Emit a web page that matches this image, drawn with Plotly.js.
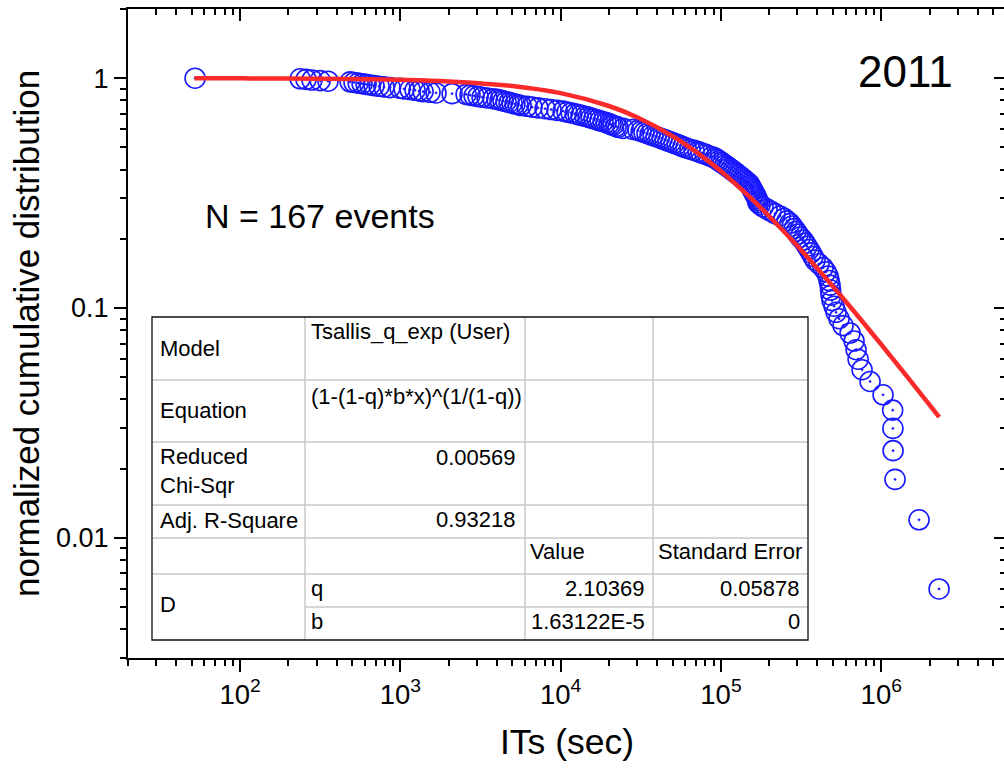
<!DOCTYPE html>
<html>
<head>
<meta charset="utf-8">
<script src="https://cdn.plot.ly/plotly-3.0.1.min.js"></script>
<style>
html,body{margin:0;padding:0;overflow:hidden;background:#fff;}
#chart{width:1010px;height:769px;}
</style>
</head>
<body>
<div id="chart"></div>
<script>
// ---- data ----
const itsSec = [52.4, 237, 258, 281, 316, 354, 486, 514, 545, 577, 611, 647, 685, 736, 791, 863, 996, 1055, 1150, 1235,
  1308, 1386, 1532, 1670, 2102, 2570, 2722, 2883, 3052, 3233, 3474, 3787, 4011, 4188, 4372, 4564, 4765, 4976, 5193, 5423,
  5663, 6171, 6631, 7227, 7992, 8711, 9497, 10350, 10960, 11610, 12300, 12840, 13410, 14200, 14820, 15470, 16160, 16870, 17610, 18390,
  19200, 20040, 20630, 21230, 22170, 22810, 24510, 28300, 30390, 31740, 33130, 34590, 36110, 37700, 39370, 41110, 42920, 44810, 46770, 48830,
  50980, 53230, 55570, 58010, 60560, 64150, 67950, 71960, 75140, 79580, 83080, 88000, 91880, 94560, 97300, 100100, 103100, 106100, 109200, 112300,
  115600, 119000, 122500, 126000, 129700, 133500, 137400, 141400, 145500, 149800, 151900, 154100, 156400, 158600, 160900, 163300, 165600, 168000, 169200, 170500,
  175400, 183100, 193900, 205300, 217400, 233700, 247500, 258400, 269800, 277600, 285800, 294100, 302700, 311500, 325200, 334700, 344500, 354500, 364900, 375500,
  386400, 409300, 433500, 452600, 465800, 472500, 479400, 482900, 486300, 493300, 507700, 522500, 545500, 577800, 638900, 676700, 696500, 716800, 759100, 851500,
  1026000, 1178000, 1182000, 1185000, 1219000, 1721000, 2294000];

const cumDist = [1, 0.99401, 0.98802, 0.98204, 0.97605, 0.97006, 0.96407, 0.95808, 0.95210, 0.94611,
  0.94012, 0.93413, 0.92814, 0.92216, 0.91617, 0.91018, 0.90419, 0.89820, 0.89222, 0.88623,
  0.88024, 0.87425, 0.86826, 0.86228, 0.85629, 0.85030, 0.84431, 0.83832, 0.83234, 0.82635,
  0.82036, 0.81437, 0.80838, 0.80240, 0.79641, 0.79042, 0.78443, 0.77844, 0.77246, 0.76647,
  0.76048, 0.75449, 0.74850, 0.74251, 0.73653, 0.73054, 0.72455, 0.71856, 0.71257, 0.70659,
  0.70060, 0.69461, 0.68862, 0.68263, 0.67665, 0.67066, 0.66467, 0.65868, 0.65269, 0.64671,
  0.64072, 0.63473, 0.62874, 0.62275, 0.61677, 0.61078, 0.60479, 0.59880, 0.59281, 0.58683,
  0.58084, 0.57485, 0.56886, 0.56287, 0.55689, 0.55090, 0.54491, 0.53892, 0.53293, 0.52695,
  0.52096, 0.51497, 0.50898, 0.50299, 0.49701, 0.49102, 0.48503, 0.47904, 0.47305, 0.46707,
  0.46108, 0.45509, 0.44910, 0.44311, 0.43713, 0.43114, 0.42515, 0.41916, 0.41317, 0.40719,
  0.40120, 0.39521, 0.38922, 0.38323, 0.37725, 0.37126, 0.36527, 0.35928, 0.35329, 0.34731,
  0.34132, 0.33533, 0.32934, 0.32335, 0.31737, 0.31138, 0.30539, 0.29940, 0.29341, 0.28743,
  0.28144, 0.27545, 0.26946, 0.26347, 0.25749, 0.25150, 0.24551, 0.23952, 0.23353, 0.22754,
  0.22156, 0.21557, 0.20958, 0.20359, 0.19760, 0.19162, 0.18563, 0.17964, 0.17365, 0.16766,
  0.16168, 0.15569, 0.14970, 0.14371, 0.13772, 0.13174, 0.12575, 0.11976, 0.11377, 0.10778,
  0.10180, 0.09581, 0.08982, 0.08383, 0.07784, 0.07186, 0.06587, 0.05988, 0.05389, 0.04790,
  0.04192, 0.03593, 0.02994, 0.02395, 0.01796, 0.01198, 0.00599];

const fitX = [52, 100, 200, 500, 1000, 2000, 5000, 10000, 20000, 30000, 50000, 70000, 100000,
  150000, 200000, 300000, 500000, 700000, 1000000, 1500000, 2300000];
const fitY = [0.99915, 0.99837, 0.99675, 0.99191, 0.98396, 0.96846, 0.92488, 0.86071, 0.75683, 0.67618,
  0.55899, 0.47766, 0.39335, 0.30559, 0.25087, 0.18596, 0.12412, 0.09394, 0.06940, 0.04884, 0.03354];

const yearLabel = "2011";
const countLabel = "N = 167 events";
const xTitle = "ITs (sec)";
const yTitle = "normalized cumulative distribution";

const rowLabels = ["Model", "Equation", "Reduced<br>Chi-Sqr", "Adj. R-Square", "D"];
const modelName = "Tsallis_q_exp (User)";
const equationText = "(1-(1-q)*b*x)^(1/(1-q))";
const statValues = ["0.00569", "0.93218"];
const colHeaders = ["Value", "Standard Error"];
const paramNames = ["q", "b"];
const paramValues = ["2.10369", "1.63122E-5"];
const paramErrors = ["0.05878", "0"];

// ---- layout helpers (pixel -> paper) ----
const L = 128, R = 1006, T = 9, B = 658;
const px = v => (v - L) / (R - L);
const py = v => (B - v) / (B - T);
const FONT = "Liberation Sans, Arial, Helvetica, sans-serif";

function txt(text, x, y, anchor, size) {
  return {text: text, x: px(x), y: py(y), xref: 'paper', yref: 'paper',
    xanchor: anchor, yanchor: 'middle', align: anchor === 'right' ? 'right' : 'left',
    showarrow: false, font: {family: FONT, size: size || 22, color: '#000'}};
}

const annotations = [
  txt(yearLabel, 905, 72, 'center', 44),
  txt(countLabel, 203, 216, 'left', 34),
  txt(rowLabels[0], 158, 348, 'left'),
  txt(modelName, 309, 331, 'left'),
  txt(rowLabels[1], 158, 410, 'left'),
  txt(equationText, 309, 396, 'left'),
  txt(rowLabels[2], 158, 471, 'left'),
  txt(statValues[0], 518, 457, 'right'),
  txt(rowLabels[3], 158, 520, 'left'),
  txt(statValues[1], 518, 519, 'right'),
  txt(colHeaders[0], 528, 551, 'left'),
  txt(colHeaders[1], 656, 551, 'left'),
  txt(rowLabels[4], 158, 604, 'left'),
  txt(paramNames[0], 309, 588, 'left'),
  txt(paramValues[0], 647, 588, 'right'),
  txt(paramErrors[0], 802, 588, 'right'),
  txt(paramNames[1], 309, 621, 'left'),
  txt(paramValues[1], 647, 621, 'right'),
  txt(paramErrors[1], 802, 621, 'right')
];

const gray = {color: '#c8c8c8', width: 1.5};
function hline(y, x0, x1) { return {type: 'line', xref: 'paper', yref: 'paper', x0: px(x0), x1: px(x1), y0: py(y), y1: py(y), line: gray}; }
function vline(x, y0, y1) { return {type: 'line', xref: 'paper', yref: 'paper', x0: px(x), x1: px(x), y0: py(y0), y1: py(y1), line: gray}; }
const tL = 152, tR = 808, tT = 317, tB = 640;
const shapes = [
  {type: 'rect', xref: 'paper', yref: 'paper', x0: px(tL), x1: px(tR), y0: py(tB), y1: py(tT), fillcolor: '#fff', line: {width: 0}, layer: 'below'},
  vline(305, tT, tB), vline(525, tT, tB), vline(653, tT, tB),
  hline(380, tL, tR), hline(442, tL, tR), hline(505, tL, tR), hline(538, tL, tR), hline(574, tL, tR), hline(607, 305, tR),
  {type: 'rect', xref: 'paper', yref: 'paper', x0: px(tL), x1: px(tR), y0: py(tB), y1: py(tT), line: {color: '#111', width: 1.3}}
];

const xr = [Math.log10(20), Math.log10(6e6)];
const yr = [Math.log10(0.003), Math.log10(2)];
const tickCommon = {tickcolor: '#000', tickwidth: 2, showline: true, linecolor: '#000', linewidth: 2,
  showgrid: false, zeroline: false, type: 'log', dtick: 1, tick0: 0};

const traces = [
  {x: itsSec, y: cumDist, type: 'scatter', mode: 'markers', name: 'data',
   marker: {symbol: 'circle-open-dot', size: 20, color: 'rgb(25,25,255)', line: {width: 1.6, color: 'rgb(25,25,255)'}}},
  {x: fitX, y: fitY, type: 'scatter', mode: 'lines', name: 'fit',
   line: {color: 'rgb(250,42,42)', width: 4.5, shape: 'spline', smoothing: 1}},
  // empty trace so the mirrored top/right axes are drawn
  {x: [], y: [], type: 'scatter', mode: 'markers', xaxis: 'x2', yaxis: 'y2', hoverinfo: 'skip', showlegend: false}
];

const layout = {
  width: 1010, height: 769,
  margin: {l: L, r: 1010 - R, t: T, b: 769 - B, pad: 0},
  paper_bgcolor: '#fff', plot_bgcolor: '#fff',
  showlegend: false,
  font: {family: FONT, color: '#000'},
  xaxis: Object.assign({}, tickCommon, {
    range: xr, ticks: 'outside', ticklen: 12, exponentformat: 'power',
    tickfont: {family: FONT, size: 22, color: '#000'},
    minor: {ticks: 'outside', ticklen: 6, tickwidth: 2, tickcolor: '#000', dtick: 'D1'},
    title: {text: xTitle, font: {family: FONT, size: 35.5, color: '#000'}, standoff: 20}
  }),
  xaxis2: Object.assign({}, tickCommon, {
    range: xr, overlaying: 'x', side: 'top', anchor: 'y2', ticks: 'inside', ticklen: 12, showticklabels: false,
    minor: {ticks: 'inside', ticklen: 6, tickwidth: 2, tickcolor: '#000', dtick: 'D1'}
  }),
  yaxis: Object.assign({}, tickCommon, {
    range: yr, ticks: 'outside', ticklen: 12, exponentformat: 'none',
    tickfont: {family: FONT, size: 27, color: '#000'},
    minor: {ticks: 'outside', ticklen: 6, tickwidth: 2, tickcolor: '#000', dtick: 'D1'},
    title: {text: yTitle, font: {family: FONT, size: 35, color: '#000'}, standoff: 6}
  }),
  yaxis2: Object.assign({}, tickCommon, {
    range: yr, overlaying: 'y', side: 'right', anchor: 'x2', ticks: 'inside', ticklen: 12, showticklabels: false,
    minor: {ticks: 'inside', ticklen: 6, tickwidth: 2, tickcolor: '#000', dtick: 'D1'}
  }),
  shapes: shapes,
  annotations: annotations
};

Plotly.newPlot('chart', traces, layout, {displayModeBar: false, staticPlot: true});
</script>
</body>
</html>
